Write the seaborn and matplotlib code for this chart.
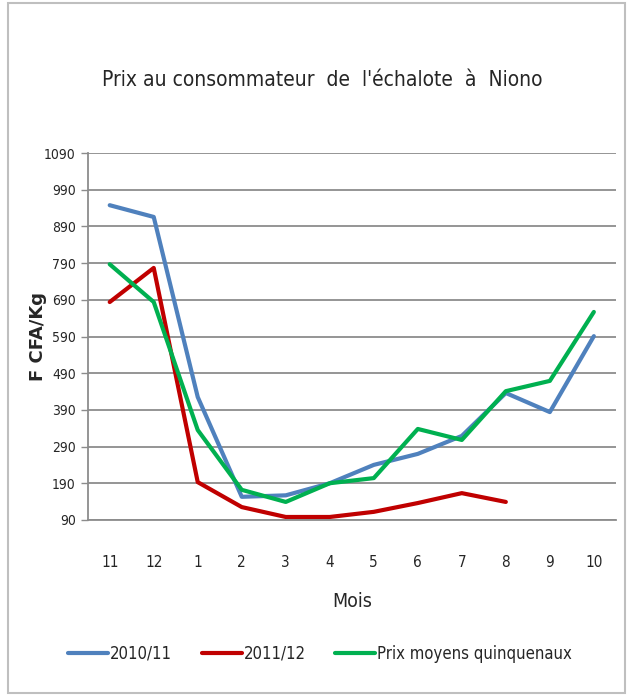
import pandas as pd
import numpy as np
import matplotlib.pyplot as plt
import seaborn as sns
from matplotlib.patches import Rectangle

# STYLE
sns.set_theme(style="white")
plt.rcParams["font.family"] = ["DejaVu Sans"]
plt.rcParams["font.stretch"] = "condensed"

# DATA
months = ["11", "12", "1", "2", "3", "4", "5", "6", "7", "8", "9", "10"]
prix_2010_11 = [948, 916, 425, 153, 157, 190, 240, 270, 319, 436, 384, 591]
prix_2011_12 = [684, 777, 193, 125, 98, 98, 112, 136, 163, 139, np.nan, np.nan]
prix_quinq = [787, 684, 335, 172, 139, 190, 204, 338, 308, 441, 469, 657]
series_names = ["2010/11", "2011/12", "Prix moyens quinquenaux"]
y_ticks = list(range(90, 1091, 100))

colors = ["#4F81BD", "#C00000", "#00B050"]

# LONG FORM
frames = []
for name, vals in zip(series_names, [prix_2010_11, prix_2011_12, prix_quinq]):
    frames.append(pd.DataFrame({"pos": range(len(months)), "prix": vals, "serie": name}))
df = pd.concat(frames).dropna()

fig = plt.figure(figsize=(6.31, 6.96), dpi=100)
fig.patches.append(Rectangle((0.012, 0.005), 0.978, 0.99, transform=fig.transFigure,
                             fill=False, edgecolor="#BFBFBF", linewidth=1.5))
ax = fig.add_axes([0.139, 0.253, 0.837, 0.527])

sns.lineplot(data=df, x="pos", y="prix", hue="serie", hue_order=series_names,
             palette=colors, linewidth=3, ax=ax, sort=False)

ax.set_xlim(-0.5, len(months) - 0.5)
ax.set_ylim(90, 1090)
ax.set_yticks(y_ticks)
ax.set_yticklabels([str(t) for t in y_ticks], fontsize=10)
ax.yaxis.grid(True, color="#8C8C8C", linewidth=1.3)
ax.set_axisbelow(True)

ax.set_xticks(range(len(months)))
ax.set_xticklabels(months, fontsize=11)
ax.tick_params(axis="x", which="major", length=0, pad=25)
ax.set_xticks(np.arange(-0.5, len(months), 1), minor=True)
ax.tick_params(axis="x", which="minor", length=5, color="#8C8C8C", width=1)
ax.tick_params(axis="y", length=5, color="#8C8C8C", width=1, left=True)

for side in ["top", "right"]:
    ax.spines[side].set_visible(False)
for side in ["left", "bottom"]:
    ax.spines[side].set_color("#8C8C8C")
    ax.spines[side].set_linewidth(1.3)

ax.set_xlabel("Mois", fontsize=14, labelpad=16)
ax.set_ylabel("F CFA/Kg", fontsize=13, fontweight="bold", fontstretch="normal")
ax.yaxis.set_label_coords(-0.078, 0.5)

fig.text(0.51, 0.885, "Prix au consommateur  de  l'échalote  à  Niono",
         ha="center", va="center", fontsize=15)

ax.legend(loc="upper center", bbox_to_anchor=(0.44, -0.30), ncol=3, frameon=False,
          fontsize=12, handlelength=2.4, handletextpad=0.1, columnspacing=1.8)

fig.savefig("out.png", dpi=100)
